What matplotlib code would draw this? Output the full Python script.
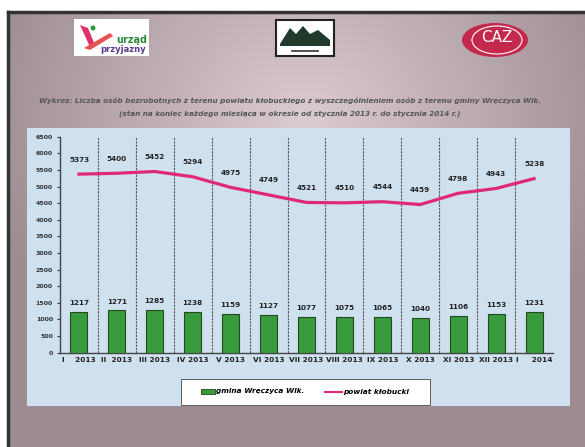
import numpy as np
import matplotlib
matplotlib.use("Agg")
import matplotlib.pyplot as plt
from matplotlib.patches import Rectangle, Ellipse, Polygon

# dane
miesiace = ["I    2013", "II  2013", "III 2013", "IV 2013", "V 2013", "VI 2013", "VII 2013",
            "VIII 2013", "IX 2013", "X 2013", "XI 2013", "XII 2013", "I     2014"]
gmina = [1217, 1271, 1285, 1238, 1159, 1127, 1077, 1075, 1065, 1040, 1106, 1153, 1231]
powiat = [5373, 5400, 5452, 5294, 4975, 4749, 4521, 4510, 4544, 4459, 4798, 4943, 5238]
y_ticks = list(range(0, 7000, 500))

tytul1 = "Wykres: Liczba osób bezrobotnych z terenu powiatu kłobuckiego z wyszczególnieniem osób z terenu gminy Wręczyca Wlk."
tytul2 = "(stan na koniec każdego miesiąca w okresie od stycznia 2013 r. do stycznia 2014 r.)"

W, H = 585, 447
fig = plt.figure(figsize=(W / 100, H / 100), dpi=100, facecolor="white")

# tlo slajdu (pixele)
bg = fig.add_axes([0, 0, 1, 1])
bg.set_xlim(0, W)
bg.set_ylim(H, 0)
bg.axis("off")
yy, xx = np.mgrid[0:H, 0:W]
d = np.sqrt(((xx - 300) / 330.0) ** 2 + ((yy - 110) / 300.0) ** 2)
d = np.clip(d, 0, 1)
c_in = np.array([0.86, 0.80, 0.82])
c_out = np.array([0.62, 0.55, 0.57])
img = c_in[None, None, :] * (1 - d[..., None]) + c_out[None, None, :] * d[..., None]
bg.imshow(img, extent=[8, W, H, 12], zorder=0, aspect="auto")
bg.plot([8, W], [12, 12], color="#333333", lw=2.5, zorder=1)
bg.plot([8, 8], [12, H], color="#333333", lw=2.5, zorder=1)

# loga
bg.add_patch(Rectangle((74, 19), 75, 37, facecolor="white", edgecolor="none", zorder=2))
bg.add_patch(Polygon([[80, 25], [88, 28], [95, 45], [90, 47]], closed=True, facecolor="#e0306a", zorder=3))
bg.add_patch(Polygon([[84, 48], [110, 33], [113, 36], [90, 50]], closed=True, facecolor="#e85050", zorder=3))
bg.add_patch(Ellipse((93, 28), 5, 5, facecolor="#2a9a3a", zorder=3))
bg.text(147, 40, "urząd", color="#2a8a3a", fontsize=7, fontweight="bold", ha="right", va="center", zorder=4)
bg.text(146, 50, "przyjazny", color="#5a3a8a", fontsize=6, fontweight="bold", ha="right", va="center", zorder=4)

bg.add_patch(Rectangle((276, 20), 58, 36, facecolor="white", edgecolor="#222222", lw=1.5, zorder=2))
bg.add_patch(Polygon([[280, 44], [290, 28], [296, 34], [303, 26], [310, 34], [318, 30], [330, 40], [330, 46], [280, 46]],
                     closed=True, facecolor="#1f3a2a", zorder=3))
bg.plot([292, 318], [51, 51], color="#333333", lw=1.2, zorder=3)

bg.add_patch(Ellipse((495, 40), 66, 34, facecolor="#c4284c", edgecolor="none", zorder=2))
bg.text(497, 37, "CAZ", color="white", fontsize=11, ha="center", va="center", zorder=3)
bg.add_patch(Ellipse((497, 40), 50, 28, facecolor="none", edgecolor="white", lw=0.8, zorder=3))

# tytul
bg.text(290, 101, tytul1, fontsize=5.2, style="italic", fontweight="bold", color="#555555", ha="center", va="center", zorder=3)
bg.text(290, 114, tytul2, fontsize=5.2, style="italic", fontweight="bold", color="#555555", ha="center", va="center", zorder=3)

# panel wykresu
bg.add_patch(Rectangle((27, 128), 543, 278, facecolor="#cfe0ee", edgecolor="none", zorder=2))

ax = fig.add_axes([60 / W, 1 - 352.7 / H, 493 / W, 216 / H])
ax.set_facecolor("none")
x = np.arange(len(miesiace))
ax.bar(x, gmina, width=0.45, color="#3a9a3e", edgecolor="#1f4a22", lw=0.8, zorder=3)
ax.plot(x, powiat, color="#e0287a", lw=2.3, zorder=4)

for i, v in enumerate(gmina):
    ax.annotate(str(v), (i, v), xytext=(0, 5), textcoords="offset points", ha="center",
                fontsize=5.2, fontweight="bold", color="#222222")
for i, v in enumerate(powiat):
    ax.annotate(str(v), (i, v), xytext=(0, 9), textcoords="offset points", ha="center",
                fontsize=5.2, fontweight="bold", color="#222222")

for b in np.arange(0.5, len(miesiace) - 1, 1):
    ax.axvline(b, color="#555555", lw=0.8, ls=(0, (2, 1)), zorder=1)

ax.set_xlim(-0.5, len(miesiace) - 0.5)
ax.set_ylim(0, 6500)
ax.set_yticks(y_ticks)
ax.set_yticklabels([str(t) for t in y_ticks], fontsize=4.5, fontweight="bold", color="#333333")
ax.set_xticks(x)
ax.set_xticklabels(miesiace, fontsize=5.3, fontweight="bold", color="#222222")
ax.tick_params(axis="y", length=2, width=0.8, pad=3, colors="#333333")
ax.tick_params(axis="x", length=0, pad=3)
for s in ["top", "right"]:
    ax.spines[s].set_visible(False)
ax.spines["left"].set_color("#444444")
ax.spines["bottom"].set_color("#444444")
ax.spines["left"].set_linewidth(1)
ax.spines["bottom"].set_linewidth(1)

# legenda
bg.add_patch(Rectangle((181, 379), 249, 26, facecolor="white", edgecolor="#444444", lw=0.6, zorder=3))
bg.add_patch(Rectangle((201, 389), 14, 5, facecolor="#3a9a3e", edgecolor="#1f4a22", lw=0.6, zorder=4))
bg.text(216, 391.5, "gmina Wręczyca Wlk.", fontsize=5.3, fontweight="bold", style="italic", va="center", zorder=4)
bg.plot([325, 342], [391.5, 391.5], color="#e0287a", lw=1.5, zorder=4)
bg.text(343, 391.5, "powiat kłobucki", fontsize=5.3, fontweight="bold", style="italic", va="center", zorder=4)

fig.savefig("out.png", dpi=100, facecolor="white")
